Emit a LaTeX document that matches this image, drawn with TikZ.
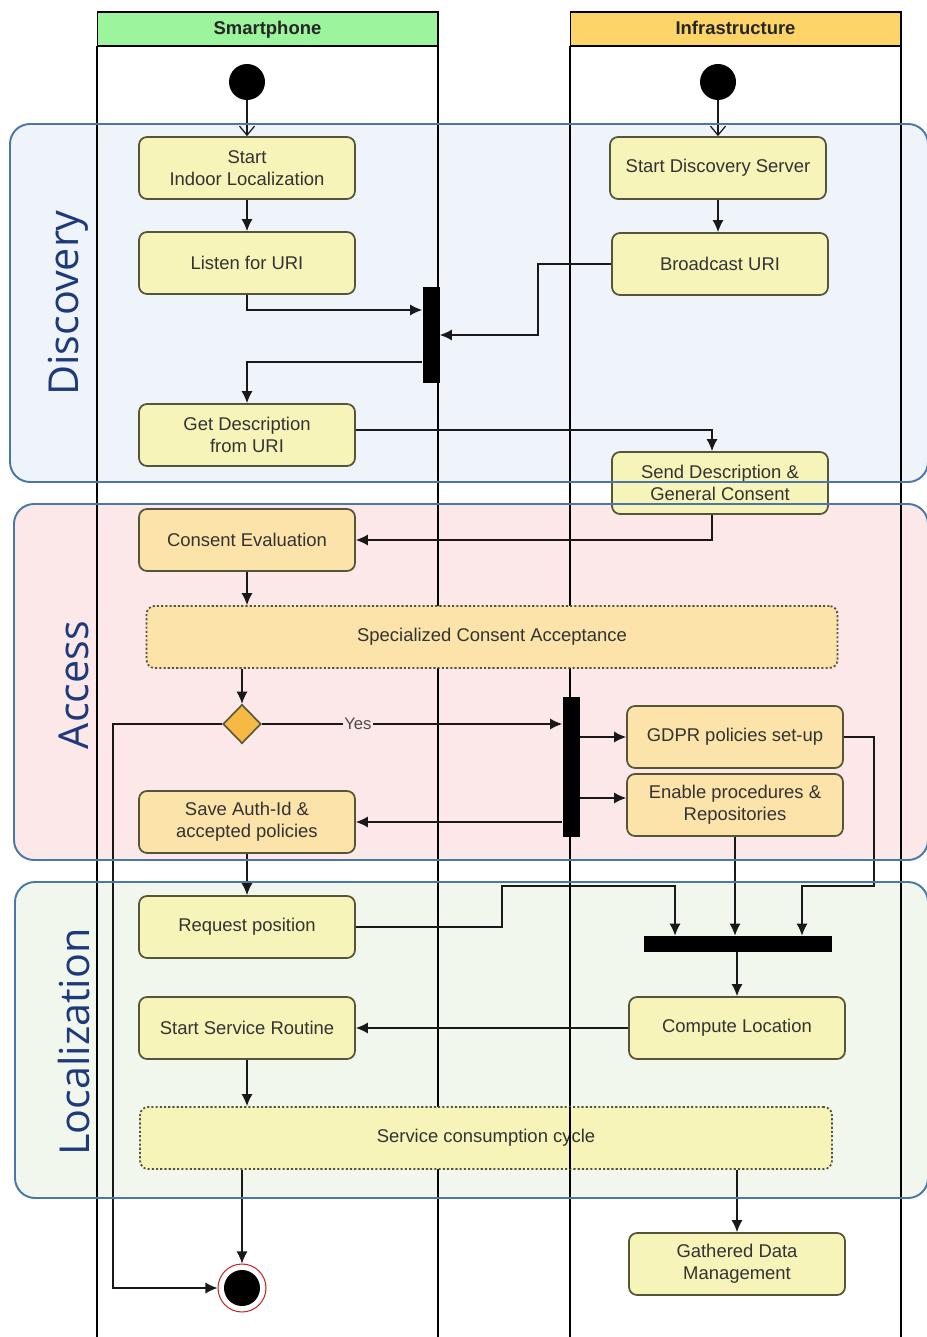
\documentclass[tikz,border=0pt]{standalone}
\usepackage{fontspec}
\setmainfont{Liberation Sans}
\newfontfamily\groupfont{Open Sans}
\usetikzlibrary{arrows.meta,shapes.geometric}

\definecolor{actfill}{HTML}{F6F4B9}
\definecolor{accfill}{HTML}{FCE3A9}
\definecolor{actline}{HTML}{55553A}
\definecolor{diafill}{HTML}{F5B944}
\definecolor{grpline}{HTML}{4A76A8}
\definecolor{grptext}{HTML}{1F3A7A}
\definecolor{discfill}{HTML}{EEF4FA}
\definecolor{accessfill}{HTML}{FCE8E9}
\definecolor{locfill}{HTML}{F2F7EE}
\definecolor{phonehdr}{HTML}{9CF59C}
\definecolor{infrahdr}{HTML}{FCD468}
\definecolor{endred}{HTML}{C62828}

\begin{document}
\begin{tikzpicture}[x=0.02cm, y=-0.02cm,
    font=\fontsize{10.5}{12.5}\selectfont,
    act/.style={rectangle, rounded corners=0.16cm, draw=actline, line width=1pt,
      fill=actfill, text=black!80, align=center, inner sep=1pt,
      minimum width=4.32cm, minimum height=1.24cm},
    acc/.style={act, fill=accfill},
    region/.style={act, dash pattern=on 1.2pt off 1.2pt},
    bar/.style={rectangle, fill=black, inner sep=0pt},
    init/.style={circle, fill=black, inner sep=0pt, minimum size=0.72cm},
    endstate/.style={circle, draw=endred, line width=0.6pt, fill=white, inner sep=0pt,
      minimum size=0.96cm,
      path picture={\fill[black] (path picture bounding box.center) circle (0.36cm);}},
    choice/.style={diamond, draw=actline, line width=0.9pt, fill=diafill, inner sep=0pt,
      minimum width=0.76cm, minimum height=0.78cm},
    flow/.style={-{Latex[length=0.24cm,width=0.22cm]}, line width=0.7pt, black!90},
    initflow/.style={-{Straight Barb[length=0.18cm,width=0.3cm]}, line width=0.7pt, black!90},
    lane/.style={line width=0.6pt},
    hdr/.style={rectangle, draw, line width=0.6pt, font=\fontsize{10.5}{12.5}\selectfont\bfseries,
      text=black!85, minimum height=0.68cm, text height=1.6ex, text depth=0.4ex},
    group/.style={draw=grpline, line width=1.1pt, rounded corners=0.4cm},
    grouplabel/.style={rotate=90, text=grptext, font=\groupfont\fontsize{23.5}{28}\selectfont}]

  \useasboundingbox (0,0) rectangle (926,1337);

  % group backgrounds
  \fill[discfill, rounded corners=0.4cm] (10,124) rectangle (928,482);
  \fill[accessfill, rounded corners=0.4cm] (14,504) rectangle (928,860);
  \fill[locfill, rounded corners=0.4cm] (15,882) rectangle (928,1198);

  \node[grouplabel] (lbldisc) at (68,303) {Discovery};
  \node[grouplabel] (lblacc) at (74,685) {Access};
  \node[grouplabel] (lblloc) at (74,1042) {Localization};

  % swimlanes
  \node[hdr, fill=phonehdr, minimum width=6.82cm] (phonehdr) at (267.5,29) {Smartphone};
  \node[hdr, fill=infrahdr, minimum width=6.62cm] (infrahdr) at (735.5,29) {Infrastructure};
  \draw[lane] (97,46) -- (97,1337);
  \draw[lane] (438,46) -- (438,1337);
  \draw[lane] (570,46) -- (570,1337);
  \draw[lane] (901,46) -- (901,1337);

  % smartphone side
  \node[init] (start1) at (247,82) {};
  \node[act] (startloc) at (247,168) {Start\\Indoor Localization};
  \node[act] (listen) at (247,263) {Listen for URI};
  \node[act] (getdesc) at (247,435) {Get Description\\from URI};
  \node[acc] (consent) at (247,540) {Consent Evaluation};
  \node[region, fill=accfill, minimum width=13.82cm] (special) at (492,637) {Specialized Consent Acceptance};
  \node[choice] (accept) at (242,724) {};
  \node[acc] (saveauth) at (247,822) {Save Auth-Id \&\\accepted policies};
  \node[act] (request) at (247,927) {Request position};
  \node[act] (startserv) at (247,1028) {Start Service Routine};
  \node[region, minimum width=13.84cm] (cycle) at (486,1138) {Service consumption cycle};
  \node[endstate] (endnode) at (242,1288) {};
  \draw[lane] (570,1107) -- (570,1169);

  % infrastructure side
  \node[init] (start2) at (718,82) {};
  \node[act] (startdisc) at (718,168) {Start Discovery Server};
  \node[act] (bcast) at (720,264) {Broadcast URI};
  \node[act] (senddesc) at (720,483) {Send Description \&\\General Consent};
  \node[acc] (gdpr) at (735,737) {GDPR policies set-up};
  \node[acc] (enable) at (735,805) {Enable procedures \&\\Repositories};
  \node[act] (compute) at (737,1028) {Compute Location};
  \node[act] (gathered) at (737,1264) {Gathered Data\\Management};

  % bars
  \node[bar, minimum width=0.34cm, minimum height=1.92cm] (bar1) at (431,335) {};
  \node[bar, minimum width=0.34cm, minimum height=2.82cm] (bar2) at (571,767) {};
  \node[bar, minimum width=3.76cm, minimum height=0.32cm] (bar3) at (738,944) {};

  % flows
  \draw[initflow] (start1) -- (startloc.north);
  \draw[initflow] (start2) -- (startdisc.north);
  \draw[flow] (startloc) -- (listen);
  \draw[flow] (startdisc) -- (startdisc.south |- bcast.north);
  \draw[flow] (listen.south) |- (bar1.west |- 0,310);
  \draw[flow] (bcast.west) -| (538,335) -- (bar1.east |- 0,335);
  \draw[flow] (bar1.west |- 0,362) -| (getdesc.north);
  \draw[flow] (getdesc.east |- 0,430) -| (senddesc.north -| 712,0);
  \draw[flow] (senddesc.south -| 712,0) |- (consent.east);
  \draw[flow] (consent.south) -- (consent.south |- special.north);
  \draw[flow] (accept.north |- special.south) -- (accept.north);
  \draw[flow] (accept.east) -- (bar2.west |- accept.east)
    node[pos=0.32, fill=accessfill, inner sep=1pt, text=black!70, font=\fontsize{9.5}{11}\selectfont] {Yes};
  \draw[flow] (accept.west) -- (113,724) |- (endnode.west);
  \draw[flow] (bar2.east |- gdpr.west) -- (gdpr.west);
  \draw[flow] (bar2.east |- 0,798) -- (enable.west |- 0,798);
  \draw[flow] (bar2.west |- saveauth.east) -- (saveauth.east);
  \draw[flow] (saveauth) -- (request);
  \draw[flow] (request.east) -| (502,886) -| (bar3.north -| 675,0);
  \draw[flow] (enable.south) -- (enable.south |- bar3.north);
  \draw[flow] (gdpr.east) -| (874,886) -| (bar3.north -| 802,0);
  \draw[flow] (compute.north |- bar3.south) -- (compute.north);
  \draw[flow] (compute) -- (startserv);
  \draw[flow] (startserv.south) -- (startserv.south |- cycle.north);
  \draw[flow] (endnode.north |- cycle.south) -- (endnode.north);
  \draw[flow] (gathered.north |- cycle.south) -- (gathered.north);

  % group borders
  \draw[group] (10,124) rectangle (928,482);
  \draw[group] (14,504) rectangle (928,860);
  \draw[group] (15,882) rectangle (928,1198);
\end{tikzpicture}
\end{document}
